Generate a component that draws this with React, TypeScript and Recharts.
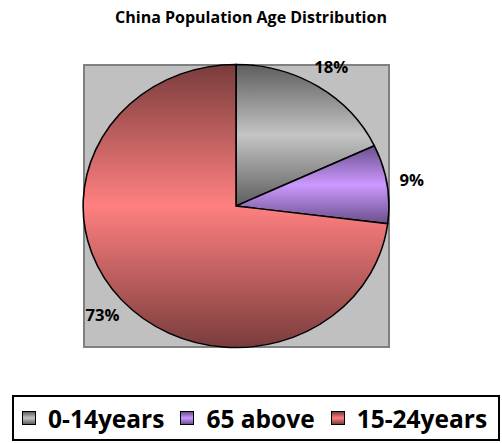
import { PieChart, Pie, Cell, Legend } from 'recharts';

const ageGroups = ['0-14years', '65 above', '15-24years'];
const shares = [18, 9, 73];
const darkColors = ['#5e5e5e', '#6a4f8c', '#7a3c3c'];
const lightColors = ['#c4c4c4', '#cc99ff', '#ff8080'];

const chartData = ageGroups.map((name, i) => ({ name, value: shares[i] }));

const RADIAN = Math.PI / 180;
const font = '"Open Sans", "Liberation Sans", sans-serif';

// the original pie is a little wider than tall
const CX = 236;
const CY = 206;
const SX = 1.04;
const SY = 0.963;

function renderLabel(props: any) {
  const { cx, cy, midAngle, outerRadius, value } = props;
  const r = outerRadius + 24;
  const x = cx + r * Math.cos(-midAngle * RADIAN);
  const y = cy + r * Math.sin(-midAngle * RADIAN);
  return (
    <text
      x={x}
      y={y}
      textAnchor="middle"
      dominantBaseline="central"
      fontFamily={font}
      fontWeight="bold"
      fontSize={16}
      fill="#000"
    >
      {`${value}%`}
    </text>
  );
}

function LegendBox() {
  return (
    <div
      style={{
        position: 'absolute',
        left: 12,
        top: 395,
        width: 488,
        border: '2px solid #000',
        height: 46,
        display: 'flex',
        alignItems: 'center',
        paddingLeft: 8,
        boxSizing: 'border-box',
        fontFamily: font,
        fontWeight: 'bold',
        fontSize: 24.5,
        color: '#000',
        whiteSpace: 'nowrap',
      }}
    >
      {ageGroups.map((g, i) => (
        <span key={g} style={{ display: 'flex', alignItems: 'center', marginRight: 16 }}>
          <span
            style={{
              width: 12,
              height: 12,
              border: '1px solid #000',
              marginRight: 12,
              background: `linear-gradient(${darkColors[i]}, ${lightColors[i]} 50%, ${darkColors[i]})`,
            }}
          />
          {g}
        </span>
      ))}
    </div>
  );
}

export default function App() {
  return (
    <div style={{ position: 'absolute', left: 0, top: 0, width: 502, height: 443, background: '#fff' }}>
      <div
        style={{
          position: 'absolute',
          left: 0,
          top: 6,
          width: 502,
          textAlign: 'center',
          fontFamily: font,
          fontWeight: 'bold',
          fontSize: 16,
        }}
      >
        China Population Age Distribution
      </div>
      <div
        style={{
          position: 'absolute',
          left: 83,
          top: 64,
          width: 303,
          height: 280,
          background: '#c0c0c0',
          border: '2px solid #808080',
        }}
      />
      <div
        style={{
          position: 'absolute',
          left: 0,
          top: 0,
          width: 502,
          height: 443,
          transform: `scale(${SX}, ${SY})`,
          transformOrigin: `${CX}px ${CY}px`,
        }}
      >
        <PieChart width={502} height={443} margin={{ top: 0, right: 0, bottom: 0, left: 0 }}>
          <defs>
            {ageGroups.map((g, i) => (
              <linearGradient key={g} id={`grad${i}`} x1="0" y1="0" x2="0" y2="1">
                <stop offset="0%" stopColor={darkColors[i]} />
                <stop offset="50%" stopColor={lightColors[i]} />
                <stop offset="100%" stopColor={darkColors[i]} />
              </linearGradient>
            ))}
          </defs>
          <Pie
            data={chartData}
            dataKey="value"
            nameKey="name"
            cx={CX}
            cy={CY}
            outerRadius={147}
            startAngle={90}
            endAngle={-270}
            stroke="#000"
            strokeWidth={1.5}
            label={renderLabel}
            labelLine={false}
            isAnimationActive={false}
          >
            {chartData.map((d, i) => (
              <Cell key={d.name} fill={`url(#grad${i})`} />
            ))}
          </Pie>
          <Legend content={() => null} />
        </PieChart>
      </div>
      <LegendBox />
    </div>
  );
}
